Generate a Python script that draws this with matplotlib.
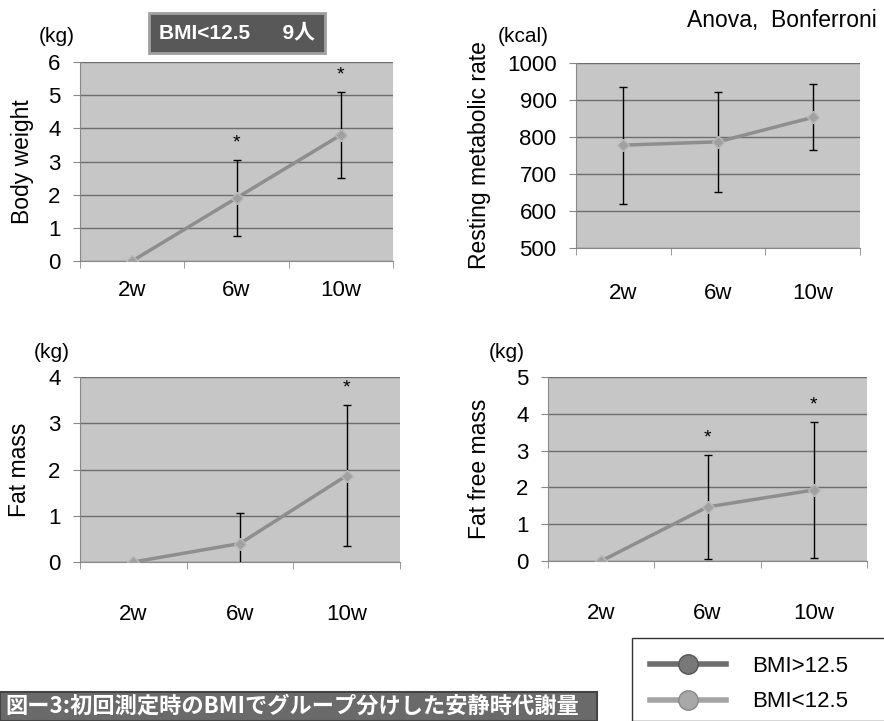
import matplotlib
matplotlib.use("Agg")
import matplotlib.pyplot as plt
from matplotlib.lines import Line2D
from matplotlib.patches import Rectangle

plt.rcParams['font.family'] = ['Liberation Sans', 'Noto Sans CJK JP', 'DejaVu Sans']

# data, BMI<12.5 group (change from baseline)
weeks = ["2w", "6w", "10w"]

bw_mean = [0.0, 1.9, 3.8]
bw_err = [0.0, 1.15, 1.3]
bw_sig = [False, True, True]

rmr_mean = [778, 787, 853]
rmr_err = [158, 135, 89]
rmr_sig = [False, False, False]

fm_mean = [0.0, 0.4, 1.87]
fm_err = [0.0, 0.65, 1.53]
fm_sig = [False, False, True]

ffm_mean = [0.0, 1.47, 1.93]
ffm_err = [0.0, 1.41, 1.85]
ffm_sig = [False, True, True]

legend_labels = ["BMI>12.5", "BMI<12.5"]

W, H = 884, 721
fig = plt.figure(figsize=(W / 100, H / 100), dpi=100)


def px_axes(x0, y0, x1, y1):
    return fig.add_axes([x0 / W, 1 - y1 / H, (x1 - x0) / W, (y1 - y0) / H])


def panel(ax, mean, err, sig, ylim, step, ylabel, unit, unit_xy, ylabel_x, xpad):
    ax.set_facecolor("#c6c6c6")
    x = range(len(weeks))
    ax.errorbar(x, mean, yerr=err, fmt="none", ecolor="black", elinewidth=1,
                capsize=3, capthick=1, zorder=3)
    ax.plot(x, mean, color="#8e8e8e", lw=2.5, marker="D", ms=6,
            mfc="#a0a0a0", mec="#b8b8b8", zorder=4)
    for i, s in enumerate(sig):
        if s:
            ax.annotate("*", (i, mean[i] + err[i]), xytext=(0, 6), textcoords="offset points",
                        ha="center", va="bottom", fontsize=14)
    ax.set_xlim(-0.5, len(weeks) - 0.5)
    ax.set_ylim(*ylim)
    ax.set_yticks([ylim[0] + step * k for k in range(int(round((ylim[1] - ylim[0]) / step)) + 1)])
    ax.yaxis.grid(True, color="#6e6e6e", lw=1)
    ax.set_axisbelow(True)
    ax.set_xticks(list(x))
    ax.set_xticklabels(weeks, fontsize=16)
    ax.tick_params(axis="x", length=0, pad=xpad)
    ax.set_xticks([-0.5, 0.5, 1.5, 2.5], minor=True)
    ax.tick_params(axis="x", which="minor", length=5, color="#888888")
    ax.tick_params(axis="y", labelsize=16, length=5, color="#888888", pad=9)
    for sp in ["top", "right"]:
        ax.spines[sp].set_visible(False)
    for sp in ["left", "bottom"]:
        ax.spines[sp].set_color("#888888")
    pos = ax.get_position()
    fig.text(ylabel_x / W, pos.y0 + pos.height / 2, ylabel, rotation=90,
             ha="center", va="center", fontsize=16.5)
    fig.text(unit_xy[0] / W, 1 - unit_xy[1] / H, unit, ha="left", va="center", fontsize=15)


ax1 = px_axes(80, 62, 393, 261)
panel(ax1, bw_mean, bw_err, bw_sig, (0, 6), 1, "Body weight", "(kg)", (39, 37), 22, 14)

ax2 = px_axes(576, 63, 860, 248)
panel(ax2, rmr_mean, rmr_err, rmr_sig, (500, 1000), 100, "Resting metabolic rate",
      "(kcal)", (498, 37), 480, 25)

ax3 = px_axes(80, 377, 400, 562)
panel(ax3, fm_mean, fm_err, fm_sig, (0, 4), 1, "Fat mass", "(kg)", (34, 352), 20, 30)

ax4 = px_axes(548, 377, 867, 561)
panel(ax4, ffm_mean, ffm_err, ffm_sig, (0, 5), 1, "Fat free mass", "(kg)", (489, 352), 480, 30)

# group box
fig.text(237 / W, 1 - 33 / H, "BMI<12.5　  9人", ha="center", va="center", color="white",
         fontsize=15, fontweight="bold",
         bbox=dict(boxstyle="square,pad=0.5", fc="#585858", ec="#a0a0a0", lw=2))

fig.text(877 / W, 1 - 20 / H, "Anova,  Bonferroni", ha="right", va="center", fontsize=16.5)

# caption
fig.patches.append(Rectangle((0, 0), 597 / W, 29 / H, transform=fig.transFigure,
                             fc="#6a6a6a", ec="#444444", lw=1.5))
fig.text(5 / W, 1 - 706 / H, "図ー3:初回測定時のBMIでグループ分けした安静時代謝量",
         ha="left", va="center", color="white", fontsize=16, fontweight="bold",
         family=["Noto Sans CJK JP", "DejaVu Sans"])

# legend
fig.patches.append(Rectangle((632 / W, 0), 260 / W, (H - 638) / H, transform=fig.transFigure,
                             fc="white", ec="#333333", lw=1))
handles = [
    Line2D([], [], color="#6e6e6e", lw=4, marker="o", ms=14, mfc="#787878", mec="#555555"),
    Line2D([], [], color="#a4a4a4", lw=4, marker="o", ms=14, mfc="#a8a8a8", mec="#888888"),
]
fig.legend(handles, legend_labels, loc="upper left", bbox_to_anchor=(650 / W, 1 - 656 / H),
           frameon=False, fontsize=16, handlelength=3.4, handletextpad=1.2,
           labelspacing=0.65, borderaxespad=0, borderpad=0)

fig.savefig("out.png", dpi=100)
